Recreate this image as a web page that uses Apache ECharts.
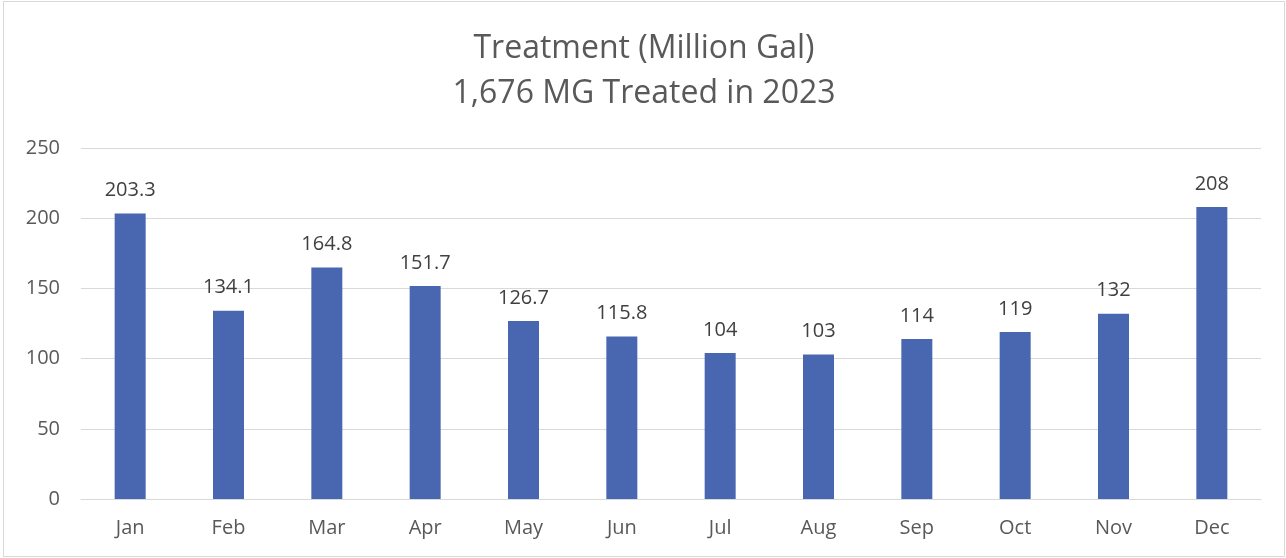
<!DOCTYPE html>
<html>
<head>
<meta charset="utf-8">
<script src="https://cdn.jsdelivr.net/npm/echarts@6/dist/echarts.min.js"></script>
<style>
  html, body { margin: 0; padding: 0; background: #fff; }
  #chart {
    position: absolute; left: 3px; top: 1px;
    width: 1280px; height: 554px;
    border: 1px solid #d9d9d9;
  }
</style>
</head>
<body>
<div id="chart"></div>
<script>
const months = ['Jan', 'Feb', 'Mar', 'Apr', 'May', 'Jun', 'Jul', 'Aug', 'Sep', 'Oct', 'Nov', 'Dec'];
const treated = [203.3, 134.1, 164.8, 151.7, 126.7, 115.8, 104, 103, 114, 119, 132, 208];
const titleLines = ['Treatment (Million Gal)', '1,676 MG Treated in 2023'];

const chart = echarts.init(document.getElementById('chart'));
chart.setOption({
  animation: false,
  title: {
    text: titleLines.join('\n'),
    left: 'center',
    top: 19,
    textStyle: {
      color: '#595959',
      fontSize: 32,
      fontWeight: 'normal',
      fontFamily: 'Open Sans',
      lineHeight: 45
    }
  },
  grid: {
    left: 77,
    right: 23,
    top: 146,
    bottom: 57
  },
  xAxis: {
    type: 'category',
    data: months,
    axisTick: { show: false },
    axisLine: { lineStyle: { color: '#d9d9d9', width: 1 } },
    axisLabel: {
      color: '#595959',
      fontSize: 20,
      fontFamily: 'Open Sans',
      margin: 19
    }
  },
  yAxis: {
    type: 'value',
    min: 0,
    max: 250,
    interval: 50,
    axisLine: { show: false },
    axisTick: { show: false },
    splitLine: { lineStyle: { color: '#d9d9d9', width: 1 } },
    axisLabel: {
      color: '#595959',
      fontSize: 20,
      fontFamily: 'Open Sans',
      margin: 21
    }
  },
  series: [{
    type: 'bar',
    data: treated,
    barWidth: 31,
    itemStyle: { color: '#4967b0' },
    label: {
      show: true,
      position: 'top',
      distance: 13,
      color: '#404040',
      fontSize: 20,
      fontFamily: 'Open Sans'
    }
  }]
});
</script>
</body>
</html>
